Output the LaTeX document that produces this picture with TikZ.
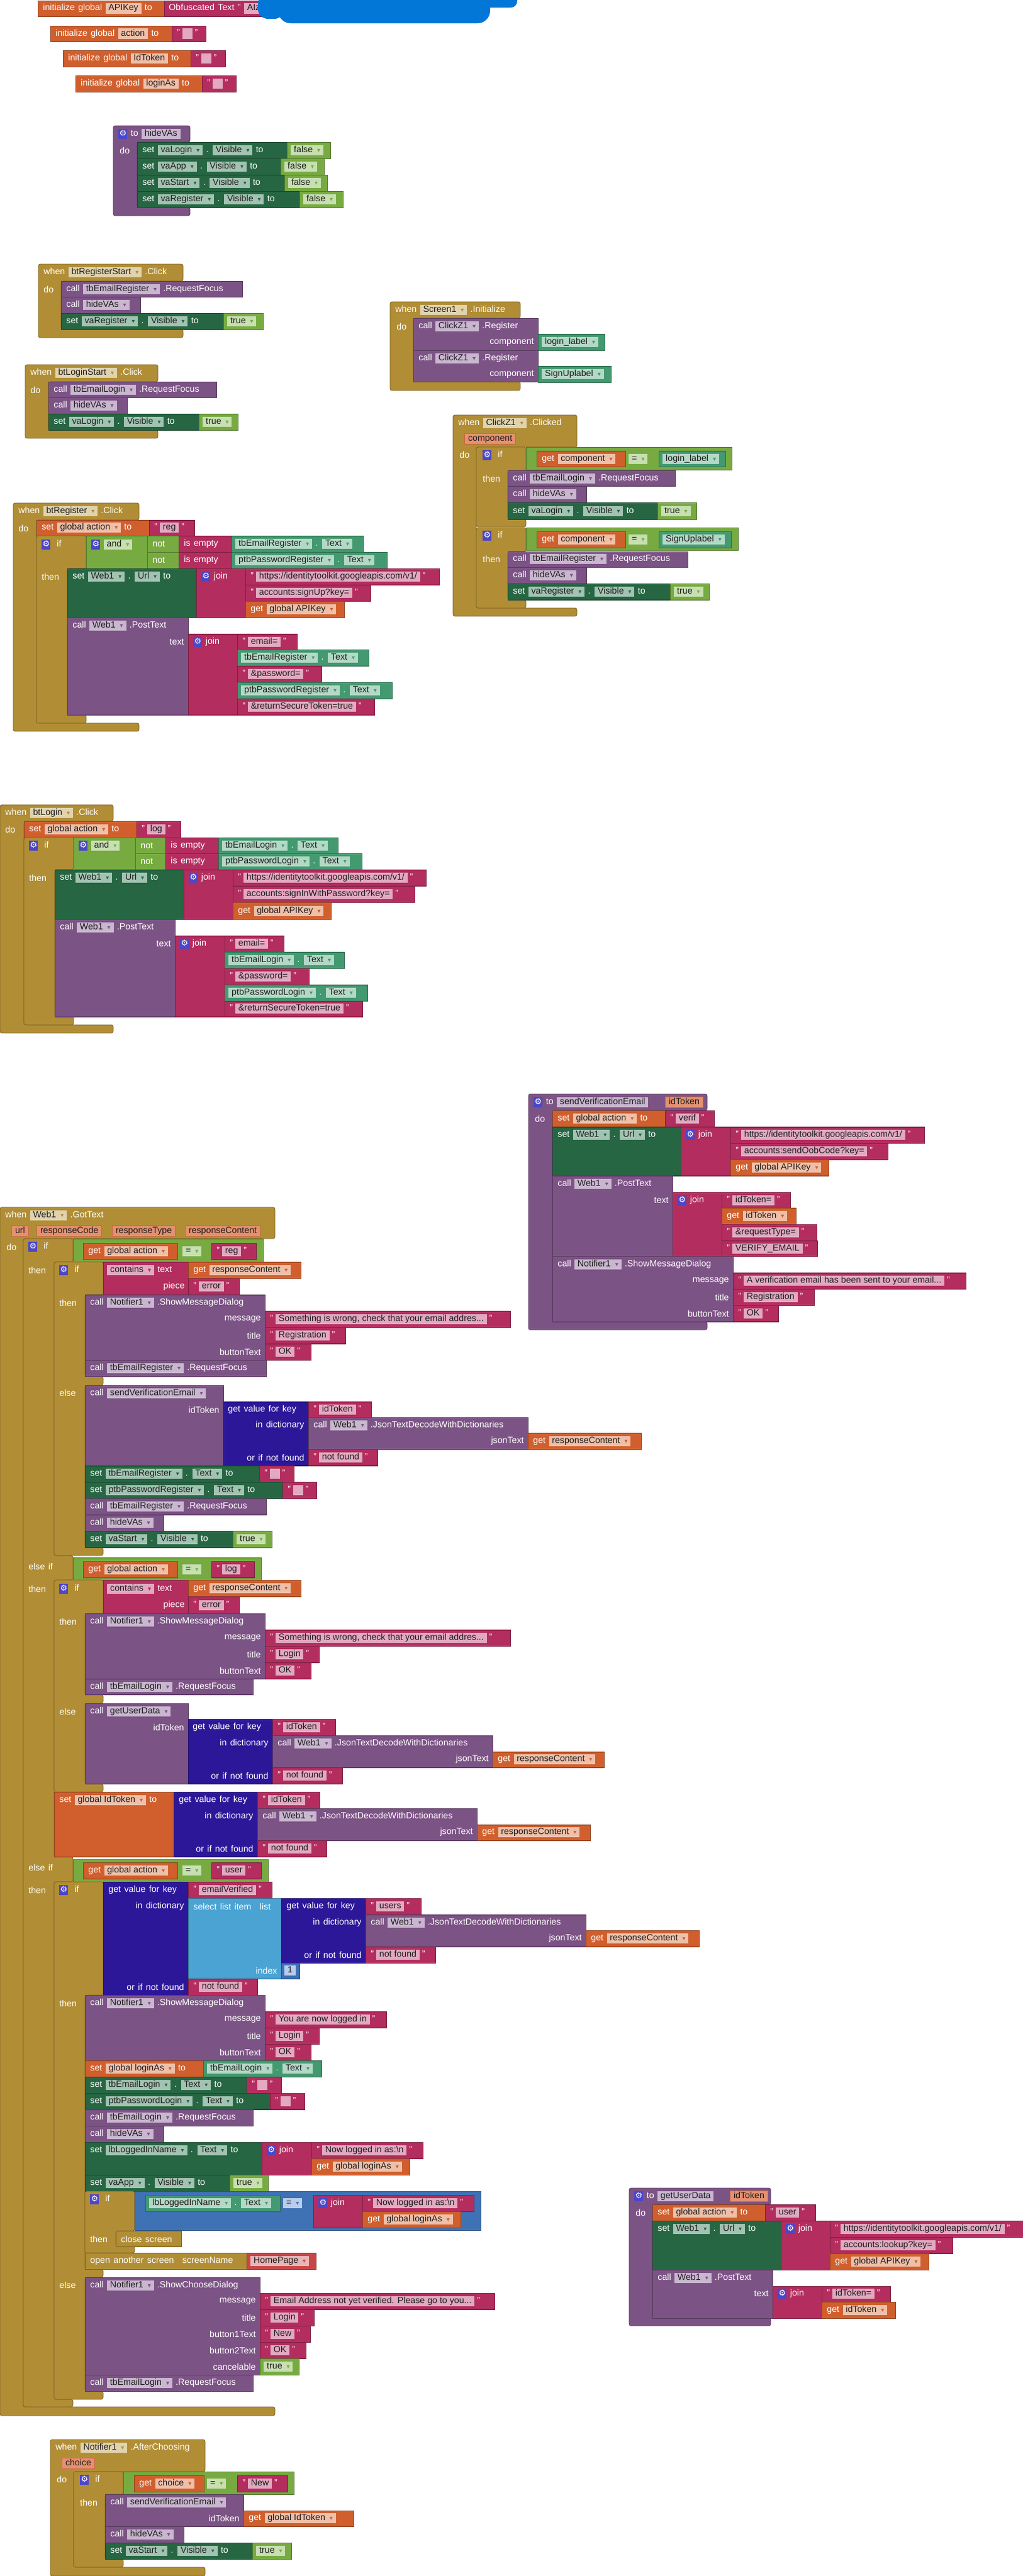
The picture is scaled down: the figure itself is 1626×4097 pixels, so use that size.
\documentclass[tikz,border=0pt]{standalone}
\usepackage{fontspec}
\setmainfont{Liberation Sans}
\newfontfamily\sym{DejaVu Sans}

\definecolor{evc}{HTML}{B18E35}\definecolor{evp}{HTML}{E0D3AE}
\definecolor{prc}{HTML}{7C5385}\definecolor{prp}{HTML}{C9B6CF}
\definecolor{orc}{HTML}{D05F2D}\definecolor{orp}{HTML}{EFC0A9}
\definecolor{txc}{HTML}{B32D5E}\definecolor{txp}{HTML}{E2A9C0}
\definecolor{dgc}{HTML}{266643}\definecolor{dgp}{HTML}{A3C3B2}
\definecolor{lgc}{HTML}{77AB41}\definecolor{lgp}{HTML}{C7DFB1}
\definecolor{tlc}{HTML}{439970}\definecolor{tlp}{HTML}{B4D8C6}
\definecolor{nvc}{HTML}{2D1799}\definecolor{lbc}{HTML}{4AA3D3}
\definecolor{mbc}{HTML}{3F71B5}\definecolor{mbp}{HTML}{B9CDEB}
\definecolor{scc}{HTML}{C84646}\definecolor{scp}{HTML}{E9B5B5}
\definecolor{prm}{HTML}{E5916F}\definecolor{prmb}{HTML}{C9683F}
\definecolor{gearc}{HTML}{4C46C8}\definecolor{blob}{HTML}{0377D8}
\definecolor{ink}{HTML}{1E1E1E}

\newcommand\tf{\fontsize{7.1}{8.5}\selectfont\spaceskip=2.7pt plus 1pt\relax}
\newcommand\rst{\rule[-1.6pt]{0pt}{6.6pt}}
\newcommand\pl[2]{{\spaceskip=0pt\fboxsep=0.8pt\colorbox{#1}{\kern1.6pt\rst\textcolor{ink}{#2}\kern1.6pt}}}
\newcommand\dn[1]{\hspace{3.5pt}{\color{#1}\sym\fontsize{5}{5}\selectfont ▾}}
\newcommand\pG[1]{\pl{dgp}{#1\dn{dgc}}}
\newcommand\pP[1]{\pl{prp}{#1\dn{prc}}}
\newcommand\pO[1]{\pl{orp}{#1\dn{orc}}}
\newcommand\pT[1]{\pl{tlp}{#1\dn{tlc}}}
\newcommand\pE[1]{\pl{evp}{#1\dn{evc}}}
\newcommand\pL[1]{\pl{lgp}{#1\dn{lgc}}}
\newcommand\pS[1]{"\hspace{2pt}\pl{txp}{#1}\hspace{2pt}"}
\newcommand\pA[1]{{\fboxsep=0.8pt\fcolorbox{prmb}{prm}{\kern1.6pt\rst\textcolor{ink}{#1}\kern1.6pt}}}
\newcommand\gear{{\fboxsep=0.6pt\colorbox{gearc}{\rst\textcolor{white}{\sym\fontsize{6.5}{7}\selectfont ⚙}}}}

\tikzset{
	blk/.style={fill=#1, draw=#1!70!black, line width=0.4pt},
	lab/.style={anchor=west, inner sep=0pt, text=white, font=\tf},
}
\newcommand\blk[5]{\filldraw[blk=#1] (#2,#3) rectangle (#4,#5);}
\newcommand\ctl[7]{\filldraw[blk=#1, rounded corners=1.5pt] (#2,#5) foreach \ya/\yb in {#7} { -- (#3,\ya) -- (#4,\ya) -- (#4,\yb) -- (#3,\yb) } -- (#2,#6) -- cycle;}
\newcommand\lab[3]{\node[lab] at (#1,#2) {#3};}
\newcommand\labr[3]{\node[lab, anchor=east] at (#1,#2) {#3};}

\begin{document}
\begin{tikzpicture}[x=0.5pt, y=-0.5pt]
		%%%%% START %%%%%
		\fill[white] (0,0) rectangle (1626,4097);
		\useasboundingbox (0,0) rectangle (1626,4097);
		
		% globals
		\blk{orc}{60}{1}{261}{26} \blk{txc}{261}{1}{470}{26}
		\lab{68}{13.5}{initialize global \pl{orp}{APIKey} to}
		\lab{268}{13.5}{Obfuscated Text " \pl{txp}{AIza}}
		\fill[blob, rounded corners=5pt] (412,-10) rectangle (822,12);
		\fill[blob, rounded corners=10pt] (442,-10) rectangle (779,37);
		\fill[blob, rounded corners=8pt] (410,-10) rectangle (452,30);
		
		\blk{orc}{80}{41}{273}{66} \blk{txc}{273}{41}{327}{66}
		\lab{88}{53.5}{initialize global \pl{orp}{action} to} \lab{281}{53.5}{\pS{\hspace{3pt}}}
		\blk{orc}{100}{80}{303}{106} \blk{txc}{303}{80}{358}{106}
		\lab{108}{93}{initialize global \pl{orp}{IdToken} to} \lab{311}{93}{\pS{\hspace{3pt}}}
		\blk{orc}{120}{120}{321}{146} \blk{txc}{321}{120}{375}{146}
		\lab{128}{133}{initialize global \pl{orp}{loginAs} to} \lab{329}{133}{\pS{\hspace{3pt}}}
		
		% hideVAs
		\ctl{prc}{180}{218}{302}{200}{343}{200/226,330/343}
		\lab{188}{213}{\gear\ to \pl{prp}{hideVAs}} \lab{190}{239}{do}
		\blk{dgc}{218}{226}{456}{252} \lab{226}{239}{set \pG{vaLogin} . \pG{Visible} to}
		\blk{lgc}{456}{226}{525}{252} \lab{462}{239}{\pL{false}}
		\blk{dgc}{218}{252}{446}{278} \lab{226}{265}{set \pG{vaApp} . \pG{Visible} to}
		\blk{lgc}{446}{252}{515}{278} \lab{452}{265}{\pL{false}}
		\blk{dgc}{218}{278}{452}{304} \lab{226}{291}{set \pG{vaStart} . \pG{Visible} to}
		\blk{lgc}{452}{278}{520}{304} \lab{458}{291}{\pL{false}}
		\blk{dgc}{218}{304}{476}{330} \lab{226}{317}{set \pG{vaRegister} . \pG{Visible} to}
		\blk{lgc}{476}{304}{545}{330} \lab{482}{317}{\pL{false}}
		
		% btRegisterStart
		\ctl{evc}{61}{97}{291}{420}{537}{420/447,524/537}
		\lab{69}{433}{when \pE{btRegisterStart} .Click} \lab{69}{460}{do}
		\blk{prc}{97}{447}{385}{472} \lab{105}{460}{call \pP{tbEmailRegister} .RequestFocus}
		\blk{prc}{97}{472}{223}{498} \lab{105}{485}{call \pP{hideVAs}}
		\blk{dgc}{97}{498}{355}{524} \lab{105}{511}{set \pG{vaRegister} . \pG{Visible} to}
		\blk{lgc}{355}{498}{418}{524} \lab{361}{511}{\pL{true}}
		
		% Screen1
		\ctl{evc}{620}{657}{827}{480}{621}{480/506,607/621}
		\lab{628}{493}{when \pE{Screen1} .Initialize} \lab{630}{519}{do}
		\blk{prc}{657}{506}{855}{557} \lab{665}{519}{call \pP{ClickZ1} .Register} \labr{849}{544}{component}
		\blk{tlc}{855}{531}{961}{557} \lab{861}{544}{\pT{login\_label}}
		\blk{prc}{657}{557}{855}{607} \lab{665}{570}{call \pP{ClickZ1} .Register} \labr{849}{595}{component}
		\blk{tlc}{855}{582}{971}{608} \lab{861}{595}{\pT{SignUplabel}}
		
		% btLoginStart
		\ctl{evc}{40}{77}{251}{580}{697}{580/607,684/697}
		\lab{48}{593}{when \pE{btLoginStart} .Click} \lab{48}{620}{do}
		\blk{prc}{77}{607}{344}{632} \lab{85}{620}{call \pP{tbEmailLogin} .RequestFocus}
		\blk{prc}{77}{632}{202}{658} \lab{85}{645}{call \pP{hideVAs}}
		\blk{dgc}{77}{658}{316}{684} \lab{85}{671}{set \pG{vaLogin} . \pG{Visible} to}
		\blk{lgc}{316}{658}{378}{684} \lab{322}{671}{\pL{true}}
		
		% ClickZ1 Clicked
		\ctl{evc}{720}{757}{917}{660}{980}{660/711,967/980}
		\lab{728}{673}{when \pE{ClickZ1} .Clicked} \lab{738}{698}{\pA{component}} \lab{730}{723}{do}
		\ctl{evc}{757}{807}{836}{711}{838}{711/748,826/838}
		\lab{767}{724}{\gear\hspace{5pt}if} \lab{767}{761}{then}
		\blk{lgc}{836}{711}{1163}{747}
		\blk{orc}{853}{717}{994}{742} \lab{861}{730}{get \pO{component}} \lab{999}{730}{\pL{=}}
		\blk{tlc}{1047}{717}{1153}{742} \lab{1053}{730}{\pT{login\_label}}
		\blk{prc}{807}{748}{1073}{773} \lab{815}{761}{call \pP{tbEmailLogin} .RequestFocus}
		\blk{prc}{807}{773}{932}{799} \lab{815}{786}{call \pP{hideVAs}}
		\blk{dgc}{807}{799}{1045}{826} \lab{815}{813}{set \pG{vaLogin} . \pG{Visible} to}
		\blk{lgc}{1045}{799}{1107}{826} \lab{1051}{813}{\pL{true}}
		\ctl{evc}{757}{807}{836}{839}{967}{839/877,954/967}
		\lab{767}{852}{\gear\hspace{5pt}if} \lab{767}{889}{then}
		\blk{lgc}{836}{839}{1173}{875}
		\blk{orc}{853}{845}{994}{871} \lab{861}{858}{get \pO{component}} \lab{999}{858}{\pL{=}}
		\blk{tlc}{1047}{845}{1162}{871} \lab{1053}{858}{\pT{SignUplabel}}
		\blk{prc}{807}{877}{1093}{902} \lab{815}{889}{call \pP{tbEmailRegister} .RequestFocus}
		\blk{prc}{807}{902}{932}{928} \lab{815}{915}{call \pP{hideVAs}}
		\blk{dgc}{807}{928}{1065}{954} \lab{815}{941}{set \pG{vaRegister} . \pG{Visible} to}
		\blk{lgc}{1065}{928}{1127}{954} \lab{1071}{941}{\pL{true}}
		
		% btRegister
		\ctl{evc}{21}{58}{221}{800}{1163}{800/827,1150/1163}
		\lab{29}{813}{when \pE{btRegister} .Click} \lab{29}{840}{do}
		\blk{orc}{58}{827}{237}{852} \lab{66}{839}{set \pO{global action} to}
		\blk{txc}{237}{827}{309}{852} \lab{245}{839}{\pS{reg}}
		\ctl{evc}{58}{107}{137}{852}{1150}{852/904,1137/1150}
		\lab{66}{866}{\gear\hspace{5pt}if} \lab{66}{917}{then}
		\blk{lgc}{137}{852}{284}{904} \lab{145}{866}{\gear\ \pL{and}}
		\blk{lgc}{234}{852}{284}{878} \lab{242}{865}{not}
		\blk{lgc}{234}{878}{284}{904} \lab{242}{891}{not}
		\blk{txc}{284}{852}{368}{878} \lab{292}{865}{is empty}
		\blk{txc}{284}{878}{368}{904} \lab{292}{891}{is empty}
		\blk{tlc}{368}{852}{577}{878} \lab{374}{865}{\pT{tbEmailRegister} . \pT{Text}}
		\blk{tlc}{368}{878}{615}{904} \lab{374}{891}{\pT{ptbPasswordRegister} . \pT{Text}}
		\blk{dgc}{107}{904}{312}{982} \lab{115}{917}{set \pG{Web1} . \pG{Url} to}
		\blk{txc}{312}{904}{390}{982} \lab{320}{917}{\gear\ join}
		\blk{txc}{390}{904}{698}{930} \lab{398}{917}{\pS{https://identitytoolkit.googleapis.com/v1/}}
		\blk{txc}{390}{930}{589}{956} \lab{398}{943}{\pS{accounts:signUp?key=}}
		\blk{orc}{390}{956}{547}{982} \lab{398}{969}{get \pO{global APIKey}}
		\blk{prc}{107}{982}{299}{1137} \lab{115}{995}{call \pP{Web1} .PostText} \labr{293}{1021}{text}
		\blk{txc}{299}{1008}{377}{1137} \lab{307}{1021}{\gear\ join}
		\blk{txc}{377}{1008}{472}{1033} \lab{385}{1021}{\pS{email=}}
		\blk{tlc}{377}{1033}{586}{1059} \lab{383}{1046}{\pT{tbEmailRegister} . \pT{Text}}
		\blk{txc}{377}{1059}{511}{1085} \lab{385}{1072}{\pS{\&password=}}
		\blk{tlc}{377}{1085}{623}{1111} \lab{383}{1098}{\pT{ptbPasswordRegister} . \pT{Text}}
		\blk{txc}{377}{1111}{595}{1137} \lab{385}{1124}{\pS{\&returnSecureToken=true}}
		
		% btLogin
		\ctl{evc}{0}{38}{180}{1280}{1643}{1280/1306,1630/1643}
		\lab{8}{1293}{when \pE{btLogin} .Click} \lab{8}{1319}{do}
		\blk{orc}{38}{1306}{217}{1332} \lab{46}{1319}{set \pO{global action} to}
		\blk{txc}{217}{1306}{287}{1332} \lab{225}{1319}{\pS{log}}
		\ctl{evc}{38}{87}{117}{1332}{1630}{1332/1383,1617/1630}
		\lab{46}{1345}{\gear\hspace{5pt}if} \lab{46}{1396}{then}
		\blk{lgc}{117}{1332}{263}{1383} \lab{125}{1345}{\gear\ \pL{and}}
		\blk{lgc}{215}{1332}{263}{1357} \lab{223}{1345}{not}
		\blk{lgc}{215}{1357}{263}{1383} \lab{223}{1370}{not}
		\blk{txc}{263}{1332}{347}{1357} \lab{271}{1345}{is empty}
		\blk{txc}{263}{1357}{347}{1383} \lab{271}{1370}{is empty}
		\blk{tlc}{347}{1332}{537}{1357} \lab{353}{1345}{\pT{tbEmailLogin} . \pT{Text}}
		\blk{tlc}{347}{1357}{575}{1383} \lab{353}{1370}{\pT{ptbPasswordLogin} . \pT{Text}}
		\blk{dgc}{87}{1383}{292}{1462} \lab{95}{1396}{set \pG{Web1} . \pG{Url} to}
		\blk{txc}{292}{1383}{370}{1462} \lab{300}{1396}{\gear\ join}
		\blk{txc}{370}{1383}{677}{1409} \lab{378}{1396}{\pS{https://identitytoolkit.googleapis.com/v1/}}
		\blk{txc}{370}{1409}{659}{1435} \lab{378}{1422}{\pS{accounts:signInWithPassword?key=}}
		\blk{orc}{370}{1435}{526}{1462} \lab{378}{1449}{get \pO{global APIKey}}
		\blk{prc}{87}{1462}{278}{1617} \lab{95}{1475}{call \pP{Web1} .PostText} \labr{272}{1501}{text}
		\blk{txc}{278}{1488}{357}{1617} \lab{286}{1501}{\gear\ join}
		\blk{txc}{357}{1488}{451}{1514} \lab{365}{1501}{\pS{email=}}
		\blk{tlc}{357}{1514}{547}{1540} \lab{363}{1527}{\pT{tbEmailLogin} . \pT{Text}}
		\blk{txc}{357}{1540}{491}{1566} \lab{365}{1553}{\pS{\&password=}}
		\blk{tlc}{357}{1566}{584}{1592} \lab{363}{1579}{\pT{ptbPasswordLogin} . \pT{Text}}
		\blk{txc}{357}{1592}{576}{1617} \lab{365}{1604}{\pS{\&returnSecureToken=true}}
		
		% sendVerificationEmail
		\ctl{prc}{840}{878}{1124}{1740}{2115}{1740/1766,2102/2115}
		\lab{848}{1753}{\gear\ to \pl{prp}{sendVerificationEmail}} \lab{1057}{1753}{\pA{idToken}} \lab{850}{1779}{do}
		\blk{orc}{878}{1766}{1057}{1792} \lab{886}{1779}{set \pO{global action} to}
		\blk{txc}{1057}{1766}{1135}{1792} \lab{1065}{1779}{\pS{verif}}
		\blk{dgc}{878}{1792}{1082}{1870} \lab{886}{1805}{set \pG{Web1} . \pG{Url} to}
		\blk{txc}{1082}{1792}{1161}{1870} \lab{1090}{1805}{\gear\ join}
		\blk{txc}{1161}{1792}{1469}{1818} \lab{1169}{1805}{\pS{https://identitytoolkit.googleapis.com/v1/}}
		\blk{txc}{1161}{1818}{1411}{1844} \lab{1169}{1831}{\pS{accounts:sendOobCode?key=}}
		\blk{orc}{1161}{1844}{1317}{1870} \lab{1169}{1857}{get \pO{global APIKey}}
		\blk{prc}{878}{1870}{1069}{1998} \lab{886}{1883}{call \pP{Web1} .PostText} \labr{1063}{1909}{text}
		\blk{txc}{1069}{1896}{1147}{1998} \lab{1077}{1909}{\gear\ join}
		\blk{txc}{1147}{1896}{1256}{1921} \lab{1155}{1909}{\pS{idToken=}}
		\blk{orc}{1147}{1921}{1265}{1947} \lab{1155}{1934}{get \pO{idToken}}
		\blk{txc}{1147}{1947}{1298}{1973} \lab{1155}{1960}{\pS{\&requestType=}}
		\blk{txc}{1147}{1973}{1299}{1998} \lab{1155}{1986}{\pS{VERIFY\_EMAIL}}
		\blk{prc}{878}{1998}{1165}{2102} \lab{886}{2011}{call \pP{Notifier1} .ShowMessageDialog}
		\labr{1159}{2037}{message} \labr{1159}{2063}{title} \labr{1159}{2089}{buttonText}
		\blk{txc}{1165}{2024}{1535}{2050} \lab{1173}{2037}{\pS{A verification email has been sent to your email...}}
		\blk{txc}{1165}{2050}{1294}{2076} \lab{1173}{2063}{\pS{Registration}}
		\blk{txc}{1165}{2076}{1237}{2102} \lab{1173}{2089}{\pS{OK}}
		
		% Web1 GotText
		\ctl{evc}{0}{37}{437}{1920}{3842}{1920/1970,3828/3842}
		\lab{8}{1933}{when \pE{Web1} .GotText}
		\lab{18}{1958}{\pA{url}} \lab{58}{1958}{\pA{responseCode}} \lab{178}{1958}{\pA{responseType}} \lab{294}{1958}{\pA{responseContent}}
		\lab{10}{1983}{do}
		\ctl{evc}{37}{86}{116}{1970}{3828}{1970/2007,2474/2513,2953/2993,3816/3828}
		\lab{45}{1983}{\gear\hspace{5pt}if} \lab{45}{2020}{then}
		\lab{45}{2491}{else if} \lab{45}{2527}{then}
		\lab{45}{2970}{else if} \lab{45}{3006}{then}
		\blk{lgc}{116}{1970}{418}{2007}
		\blk{orc}{132}{1977}{282}{2003} \lab{140}{1990}{get \pO{global action}} \lab{290}{1990}{\pL{=}}
		\blk{txc}{336}{1977}{407}{2003} \lab{344}{1990}{\pS{reg}}
		
		\ctl{evc}{86}{135}{164}{2007}{2474}{2007/2059,2189/2203,2461/2474}
		\lab{94}{2020}{\gear\hspace{5pt}if} \lab{94}{2072}{then} \lab{94}{2215}{else}
		\blk{txc}{164}{2007}{299}{2059} \lab{170}{2020}{\pl{txp}{contains\dn{txc}} text} \labr{294}{2046}{piece}
		\blk{orc}{299}{2007}{478}{2033} \lab{307}{2020}{get \pO{responseContent}}
		\blk{txc}{299}{2033}{380}{2059} \lab{307}{2046}{\pS{error}}
		\blk{prc}{135}{2059}{421}{2163} \lab{143}{2072}{call \pP{Notifier1} .ShowMessageDialog}
		\labr{415}{2098}{message} \labr{415}{2124}{title} \labr{415}{2150}{buttonText}
		\blk{txc}{421}{2085}{811}{2111} \lab{429}{2098}{\pS{Something is wrong, check that your email addres...}}
		\blk{txc}{421}{2111}{549}{2137} \lab{429}{2124}{\pS{Registration}}
		\blk{txc}{421}{2137}{494}{2163} \lab{429}{2150}{\pS{OK}}
		\blk{prc}{135}{2163}{423}{2189} \lab{143}{2176}{call \pP{tbEmailRegister} .RequestFocus}
		\blk{prc}{135}{2203}{355}{2331} \lab{143}{2216}{call \pP{sendVerificationEmail}} \labr{349}{2242}{idToken}
		\blk{nvc}{355}{2229}{490}{2331} \lab{362}{2242}{get value for key} \labr{484}{2267}{in dictionary} \labr{484}{2318}{or if not found}
		\blk{txc}{490}{2229}{590}{2254} \lab{498}{2242}{\pS{idToken}}
		\blk{prc}{490}{2254}{839}{2305} \lab{498}{2267}{call \pP{Web1} .JsonTextDecodeWithDictionaries} \labr{833}{2292}{jsonText}
		\blk{orc}{839}{2279}{1019}{2305} \lab{847}{2292}{get \pO{responseContent}}
		\blk{txc}{490}{2305}{600}{2331} \lab{498}{2318}{\pS{not found}}
		\blk{dgc}{135}{2331}{412}{2357} \lab{143}{2344}{set \pG{tbEmailRegister} . \pG{Text} to}
		\blk{txc}{412}{2331}{467}{2357} \lab{420}{2344}{\pS{\hspace{3pt}}}
		\blk{dgc}{135}{2357}{449}{2383} \lab{143}{2370}{set \pG{ptbPasswordRegister} . \pG{Text} to}
		\blk{txc}{449}{2357}{503}{2383} \lab{457}{2370}{\pS{\hspace{3pt}}}
		\blk{prc}{135}{2383}{423}{2409} \lab{143}{2396}{call \pP{tbEmailRegister} .RequestFocus}
		\blk{prc}{135}{2409}{260}{2435} \lab{143}{2422}{call \pP{hideVAs}}
		\blk{dgc}{135}{2435}{370}{2461} \lab{143}{2448}{set \pG{vaStart} . \pG{Visible} to}
		\blk{lgc}{370}{2435}{432}{2461} \lab{376}{2448}{\pL{true}}
		
		\blk{lgc}{116}{2477}{415}{2513}
		\blk{orc}{132}{2483}{282}{2509} \lab{140}{2496}{get \pO{global action}} \lab{290}{2496}{\pL{=}}
		\blk{txc}{336}{2483}{404}{2509} \lab{344}{2496}{\pS{log}}
		\ctl{evc}{86}{135}{164}{2513}{2850}{2513/2566,2695/2709,2837/2850}
		\lab{94}{2527}{\gear\hspace{5pt}if} \lab{94}{2579}{then} \lab{94}{2722}{else}
		\blk{txc}{164}{2513}{299}{2566} \lab{170}{2527}{\pl{txp}{contains\dn{txc}} text} \labr{294}{2553}{piece}
		\blk{orc}{299}{2513}{478}{2539} \lab{307}{2526}{get \pO{responseContent}}
		\blk{txc}{299}{2539}{380}{2566} \lab{307}{2553}{\pS{error}}
		\blk{prc}{135}{2566}{421}{2670} \lab{143}{2579}{call \pP{Notifier1} .ShowMessageDialog}
		\labr{415}{2605}{message} \labr{415}{2631}{title} \labr{415}{2657}{buttonText}
		\blk{txc}{421}{2592}{811}{2618} \lab{429}{2605}{\pS{Something is wrong, check that your email addres...}}
		\blk{txc}{421}{2618}{507}{2644} \lab{429}{2631}{\pS{Login}}
		\blk{txc}{421}{2644}{494}{2670} \lab{429}{2657}{\pS{OK}}
		\blk{prc}{135}{2670}{402}{2695} \lab{143}{2683}{call \pP{tbEmailLogin} .RequestFocus}
		\blk{prc}{135}{2709}{299}{2837} \lab{143}{2722}{call \pP{getUserData}} \labr{293}{2747}{idToken}
		\blk{nvc}{299}{2734}{433}{2837} \lab{306}{2747}{get value for key} \labr{427}{2773}{in dictionary} \labr{427}{2824}{or if not found}
		\blk{txc}{433}{2734}{533}{2760} \lab{441}{2747}{\pS{idToken}}
		\blk{prc}{433}{2760}{783}{2811} \lab{441}{2773}{call \pP{Web1} .JsonTextDecodeWithDictionaries} \labr{777}{2798}{jsonText}
		\blk{orc}{783}{2786}{960}{2811} \lab{791}{2798}{get \pO{responseContent}}
		\blk{txc}{433}{2811}{544}{2837} \lab{441}{2824}{\pS{not found}}
		\blk{orc}{86}{2850}{276}{2953} \lab{94}{2863}{set \pO{global IdToken} to}
		\blk{nvc}{276}{2850}{409}{2953} \lab{284}{2863}{get value for key} \labr{403}{2889}{in dictionary} \labr{403}{2940}{or if not found}
		\blk{txc}{409}{2850}{508}{2876} \lab{417}{2863}{\pS{idToken}}
		\blk{prc}{409}{2876}{758}{2927} \lab{417}{2889}{call \pP{Web1} .JsonTextDecodeWithDictionaries} \labr{752}{2914}{jsonText}
		\blk{orc}{758}{2902}{938}{2927} \lab{766}{2914}{get \pO{responseContent}}
		\blk{txc}{409}{2927}{519}{2953} \lab{417}{2940}{\pS{not found}}
		
		\blk{lgc}{116}{2957}{426}{2993}
		\blk{orc}{132}{2962}{282}{2988} \lab{140}{2975}{get \pO{global action}} \lab{290}{2975}{\pL{=}}
		\blk{txc}{336}{2962}{415}{2988} \lab{344}{2975}{\pS{user}}
		\ctl{evc}{86}{135}{164}{2993}{3816}{2993/3173,3609/3622,3803/3816}
		\lab{94}{3006}{\gear\hspace{5pt}if} \lab{94}{3186}{then} \lab{94}{3634}{else}
		\blk{nvc}{164}{2993}{299}{3173} \lab{172}{3006}{get value for key} \labr{293}{3032}{in dictionary} \labr{293}{3160}{or if not found}
		\blk{txc}{299}{2993}{432}{3019} \lab{307}{3006}{\pS{emailVerified}}
		\blk{lbc}{299}{3019}{447}{3147} \lab{307}{3032}{select list item\hspace{4pt} list} \labr{441}{3134}{index}
		\blk{nvc}{447}{3019}{581}{3122} \lab{455}{3032}{get value for key} \labr{575}{3058}{in dictionary} \labr{575}{3109}{or if not found}
		\blk{txc}{581}{3019}{669}{3045} \lab{589}{3032}{\pS{users}}
		\blk{prc}{581}{3045}{931}{3096} \lab{589}{3058}{call \pP{Web1} .JsonTextDecodeWithDictionaries} \labr{925}{3083}{jsonText}
		\blk{orc}{931}{3070}{1111}{3096} \lab{939}{3083}{get \pO{responseContent}}
		\blk{txc}{581}{3096}{692}{3122} \lab{589}{3109}{\pS{not found}}
		\blk{mbc}{447}{3122}{476}{3147} \lab{452}{3134}{\pl{mbp}{1}}
		\blk{txc}{299}{3147}{409}{3173} \lab{307}{3160}{\pS{not found}}
		\blk{prc}{135}{3173}{421}{3277} \lab{143}{3186}{call \pP{Notifier1} .ShowMessageDialog}
		\labr{415}{3212}{message} \labr{415}{3238}{title} \labr{415}{3264}{buttonText}
		\blk{txc}{421}{3199}{614}{3225} \lab{429}{3212}{\pS{You are now logged in}}
		\blk{txc}{421}{3225}{507}{3251} \lab{429}{3238}{\pS{Login}}
		\blk{txc}{421}{3251}{494}{3277} \lab{429}{3264}{\pS{OK}}
		\blk{orc}{135}{3277}{323}{3303} \lab{143}{3290}{set \pO{global loginAs} to}
		\blk{tlc}{323}{3277}{511}{3303} \lab{329}{3290}{\pT{tbEmailLogin} . \pT{Text}}
		\blk{dgc}{135}{3303}{392}{3329} \lab{143}{3316}{set \pG{tbEmailLogin} . \pG{Text} to}
		\blk{txc}{392}{3303}{447}{3329} \lab{400}{3316}{\pS{\hspace{3pt}}}
		\blk{dgc}{135}{3329}{429}{3355} \lab{143}{3342}{set \pG{ptbPasswordLogin} . \pG{Text} to}
		\blk{txc}{429}{3329}{484}{3355} \lab{437}{3342}{\pS{\hspace{3pt}}}
		\blk{prc}{135}{3355}{402}{3381} \lab{143}{3368}{call \pP{tbEmailLogin} .RequestFocus}
		\blk{prc}{135}{3381}{260}{3407} \lab{143}{3394}{call \pP{hideVAs}}
		\blk{dgc}{135}{3407}{416}{3459} \lab{143}{3420}{set \pG{lbLoggedInName} . \pG{Text} to}
		\blk{txc}{416}{3407}{495}{3459} \lab{424}{3420}{\gear\ join}
		\blk{txc}{495}{3407}{672}{3433} \lab{503}{3420}{\pS{Now logged in as:\textbackslash n}}
		\blk{orc}{495}{3433}{651}{3459} \lab{503}{3446}{get \pO{global loginAs}}
		\blk{dgc}{135}{3459}{365}{3485} \lab{143}{3472}{set \pG{vaApp} . \pG{Visible} to}
		\blk{lgc}{365}{3459}{426}{3485} \lab{371}{3472}{\pL{true}}
		\ctl{evc}{135}{184}{214}{3485}{3583}{3485/3548,3573/3583}
		\lab{143}{3498}{\gear\hspace{5pt}if} \lab{143}{3561}{then}
		\blk{mbc}{214}{3485}{764}{3547}
		\blk{tlc}{231}{3491}{445}{3517} \lab{237}{3504}{\pT{lbLoggedInName} . \pT{Text}}
		\lab{450}{3504}{\pl{mbp}{=\dn{mbc}}}
		\blk{txc}{498}{3491}{576}{3543} \lab{506}{3504}{\gear\ join}
		\blk{txc}{576}{3491}{753}{3517} \lab{584}{3504}{\pS{Now logged in as:\textbackslash n}}
		\blk{orc}{576}{3517}{732}{3543} \lab{584}{3530}{get \pO{global loginAs}}
		\blk{evc}{184}{3548}{288}{3573} \lab{192}{3561}{close screen}
		\blk{evc}{135}{3583}{392}{3609} \lab{143}{3596}{open another screen\hspace{4pt} screenName}
		\blk{scc}{392}{3583}{502}{3609} \lab{398}{3596}{\pl{scp}{HomePage\dn{scc}}}
		\blk{prc}{135}{3622}{413}{3777} \lab{143}{3635}{call \pP{Notifier1} .ShowChooseDialog}
		\labr{407}{3660}{message} \labr{407}{3686}{title} \labr{407}{3712}{button1Text} \labr{407}{3738}{button2Text} \labr{407}{3764}{cancelable}
		\blk{txc}{413}{3647}{786}{3673} \lab{421}{3660}{\pS{Email Address not yet verified. Please go to you...}}
		\blk{txc}{413}{3673}{499}{3699} \lab{421}{3686}{\pS{Login}}
		\blk{txc}{413}{3699}{493}{3725} \lab{421}{3712}{\pS{New}}
		\blk{txc}{413}{3725}{486}{3751} \lab{421}{3738}{\pS{OK}}
		\blk{lgc}{413}{3751}{475}{3777} \lab{419}{3764}{\pL{true}}
		\blk{prc}{135}{3777}{402}{3803} \lab{143}{3790}{call \pP{tbEmailLogin} .RequestFocus}
		
		% getUserData
		\ctl{prc}{1000}{1037}{1225}{3480}{3699}{3480/3506,3687/3699}
		\lab{1008}{3493}{\gear\ to \pl{prp}{getUserData}} \lab{1160}{3493}{\pA{idToken}} \lab{1010}{3519}{do}
		\blk{orc}{1037}{3506}{1216}{3532} \lab{1045}{3519}{set \pO{global action} to}
		\blk{txc}{1216}{3506}{1296}{3532} \lab{1224}{3519}{\pS{user}}
		\blk{dgc}{1037}{3532}{1241}{3610} \lab{1045}{3545}{set \pG{Web1} . \pG{Url} to}
		\blk{txc}{1241}{3532}{1319}{3610} \lab{1249}{3545}{\gear\ join}
		\blk{txc}{1319}{3532}{1640}{3558} \lab{1327}{3545}{\pS{https://identitytoolkit.googleapis.com/v1/}}
		\blk{txc}{1319}{3558}{1514}{3584} \lab{1327}{3571}{\pS{accounts:lookup?key=}}
		\blk{orc}{1319}{3584}{1476}{3610} \lab{1327}{3597}{get \pO{global APIKey}}
		\blk{prc}{1037}{3610}{1228}{3687} \lab{1045}{3623}{call \pP{Web1} .PostText} \labr{1222}{3648}{text}
		\blk{txc}{1228}{3636}{1306}{3687} \lab{1236}{3648}{\gear\ join}
		\blk{txc}{1306}{3636}{1415}{3661} \lab{1314}{3648}{\pS{idToken=}}
		\blk{orc}{1306}{3661}{1423}{3687} \lab{1314}{3674}{get \pO{idToken}}
		
		% Notifier1 AfterChoosing
		\ctl{evc}{80}{117}{326}{3880}{4097}{3880/3931,4083/4097}
		\lab{88}{3893}{when \pE{Notifier1} .AfterChoosing} \lab{98}{3918}{\pA{choice}} \lab{90}{3943}{do}
		\ctl{evc}{117}{167}{196}{3931}{4083}{3931/3967,4070/4083}
		\lab{127}{3944}{\gear\hspace{5pt}if} \lab{127}{3980}{then}
		\blk{lgc}{196}{3931}{467}{3967}
		\blk{orc}{213}{3937}{324}{3963} \lab{221}{3950}{get \pO{choice}} \lab{329}{3950}{\pL{=}}
		\blk{txc}{377}{3937}{457}{3963} \lab{385}{3950}{\pS{New}}
		\blk{prc}{167}{3967}{387}{4018} \lab{175}{3980}{call \pP{sendVerificationEmail}} \labr{381}{4005}{idToken}
		\blk{orc}{387}{3993}{562}{4018} \lab{395}{4005}{get \pO{global IdToken}}
		\blk{prc}{167}{4018}{292}{4044} \lab{175}{4031}{call \pP{hideVAs}}
		\blk{dgc}{167}{4044}{401}{4070} \lab{175}{4057}{set \pG{vaStart} . \pG{Visible} to}
		\blk{lgc}{401}{4044}{463}{4070} \lab{407}{4057}{\pL{true}}
		
		%%%%% END %%%%%
\end{tikzpicture}
\end{document}
